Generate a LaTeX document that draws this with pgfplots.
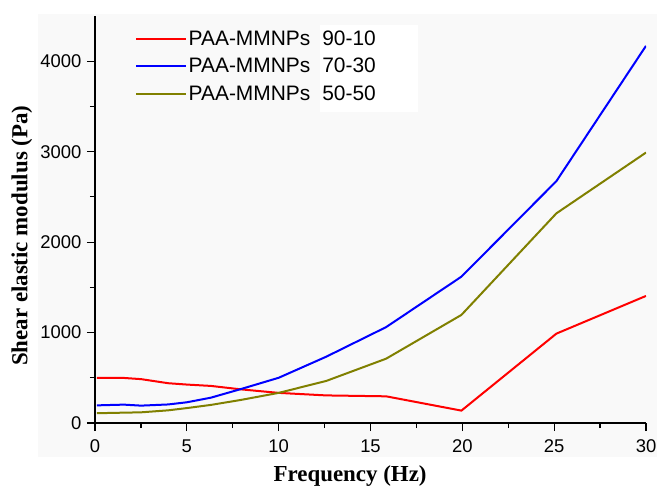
\documentclass[border=0pt]{standalone}
\usepackage{fontspec}
\setmainfont{Liberation Serif}
\setsansfont{Liberation Sans}
\usepackage{pgfplots}
\pgfplotsset{compat=1.18}
\definecolor{bggray}{RGB}{249,249,249}
\definecolor{olivel}{RGB}{128,128,0}

\begin{document}
\begin{tikzpicture}
  % light panel behind the plot and the white patch behind the legend numbers
  \fill[bggray] (-57bp,-34bp) rectangle (562bp,409bp);
  \fill[white] (225bp,311bp) rectangle (323bp,398bp);
\begin{axis}[
    scale only axis,
    width=551bp, height=407bp,
    xmin=0, xmax=30, ymin=0, ymax=4500,
    axis x line=bottom, axis y line=left,
    axis line style={-, line width=1.2bp},
    xtick={0,5,...,30}, ytick={0,1000,...,4000},
    minor x tick num=1, minor y tick num=1,
    tick align=outside,
    major tick length=8bp, minor tick length=5bp,
    tick style={line width=1.2bp, black},
    scaled y ticks=false,
    /pgf/number format/1000 sep={},
    /pgf/number format/assume math mode=true,
    tick label style={font=\sffamily\fontsize{18.5}{20}\selectfont},
    xticklabel shift=5bp,
    yticklabel shift=2bp,
    xlabel={\textbf{Frequency (Hz)}},
    ylabel={\textbf{Shear elastic modulus (Pa)}},
    label style={font=\fontsize{23}{25}\selectfont},
    xlabel style={at={(axis description cs:0.463,-0.131)}, anchor=center},
    ylabel style={at={(axis description cs:-0.1325,0.46)}, anchor=center},
    legend style={at={(axis description cs:0.0726,0.968)}, anchor=north west,
      draw=none, fill=none, inner sep=0pt, row sep=8.5bp,
      font=\sffamily\fontsize{21}{25}\selectfont,
      nodes={inner sep=1.5bp}},
    legend cell align=left,
    legend image code/.code={\draw[#1] (0bp,0bp) -- (50bp,0bp);},
    every axis plot/.append style={line width=2bp},
  ]
  \addplot[red] coordinates {
    (0.1,500) (1,500) (1.58,498) (2.51,485) (3.98,440) (5,425) (6.31,410)
    (7.94,372) (10,333) (12.59,305) (15.85,295) (19.95,137) (25.12,988) (30,1405)
  };
  \addlegendentry{PAA-MMNPs\hspace{12bp}90-10}
  \addplot[blue] coordinates {
    (0.1,195) (1,200) (1.58,203) (2.51,192) (3.98,205) (5,229) (6.31,280)
    (7.94,375) (10,500) (12.59,733) (15.85,1060) (19.95,1618) (25.12,2674) (30,4170)
  };
  \addlegendentry{PAA-MMNPs\hspace{12bp}70-30}
  \addplot[olivel] coordinates {
    (0.1,108) (1,112) (2.51,118) (3.98,140) (5,165) (6.31,200)
    (7.94,255) (10,333) (12.59,465) (15.85,711) (19.95,1195) (25.12,2318) (30,2990)
  };
  \addlegendentry{PAA-MMNPs\hspace{12bp}50-50}
\end{axis}
  \pgfresetboundingbox
  \path (-95bp,-63bp) rectangle (562bp,423bp);
\end{tikzpicture}
\end{document}
